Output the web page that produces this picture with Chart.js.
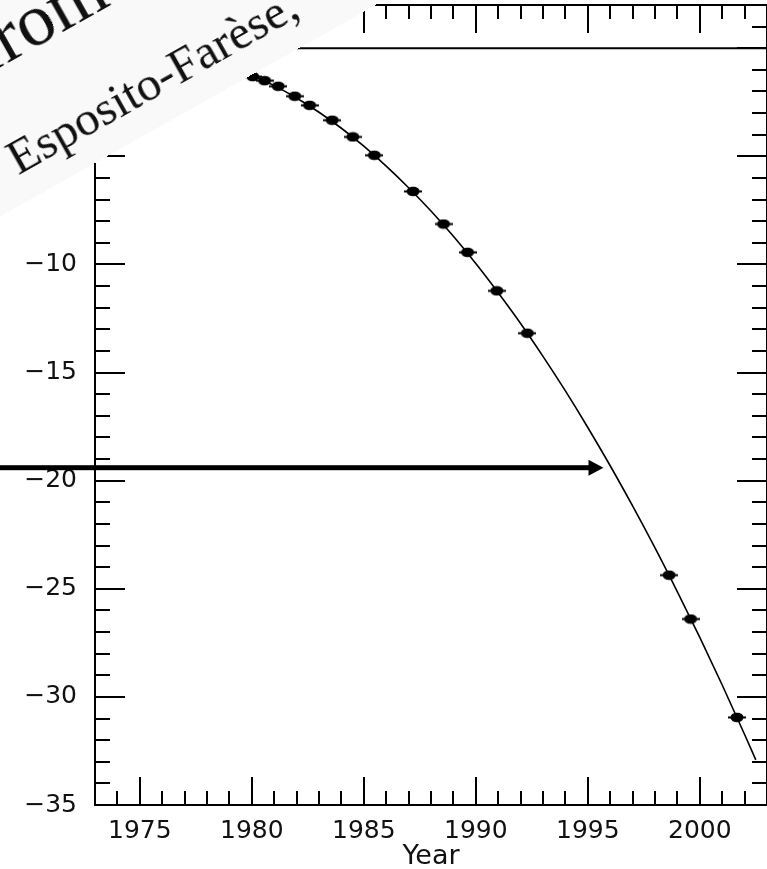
<!DOCTYPE html>
<html>
<head>
<meta charset="utf-8">
<title>Cumulative periastron shift</title>
<script src="https://cdn.jsdelivr.net/npm/chart.js@4.4.1/dist/chart.umd.min.js"></script>
<style>
  html, body { margin: 0; padding: 0; background: #fff; overflow: hidden; }
  #wrap { position: relative; width: 767px; height: 869px; overflow: hidden; }
  #chart { position: absolute; left: 0; top: 0; }
  /* the pasted paper strip over the top-left corner */
  .strip { position: absolute; left: -100px; top: -27px; width: 700px; height: 300px;
           transform-origin: 0 100%; transform: rotate(-29.4deg); background: #f9f9f9; }
  .strip span { position: absolute; white-space: nowrap; font-family: "Liberation Serif", serif;
                color: #111; line-height: 1; }
  .from { left: 171px; top: 107px; font-size: 75px; }
  .names { left: 151px; top: 232px; font-size: 49px; }
</style>
</head>
<body>
<div id="wrap">
  <canvas id="chart" width="767" height="869"></canvas>
  <div class="strip"><span class="from">from</span><span class="names">Esposito-Farèse,</span></div>
</div>
<script>
// measured points: year and cumulative shift (s)
const obsYears = [1980.04, 1980.57, 1981.18, 1981.92, 1982.58, 1983.59, 1984.51, 1985.47,
                  1987.20, 1988.56, 1989.63, 1990.94, 1992.30, 1998.63, 1999.59, 2001.66];
const obsShift = [-1.31, -1.50, -1.76, -2.22, -2.64, -3.33, -4.10, -4.95,
                  -6.62, -8.13, -9.44, -11.22, -13.18, -24.37, -26.40, -30.95];

// predicted curve
const curveYears = [1979, 1980, 1981, 1982, 1983, 1984, 1985, 1986, 1987, 1988, 1989, 1990,
                    1991, 1992, 1993, 1994, 1995, 1996, 1997, 1998, 1999, 2000, 2001, 2002, 2002.5];
const curveShift = [-0.84, -1.24, -1.73, -2.30, -2.96, -3.70, -4.53, -5.45, -6.45, -7.53, -8.70, -9.96,
                    -11.31, -12.73, -14.25, -15.85, -17.54, -19.31, -21.17, -23.11, -25.14, -27.25,
                    -29.45, -31.74, -32.91];

// zero line
const zeroYears = [1973, 2003];
const zeroShift = [0, 0];

// arrow
const arrowShift = -19.4;
const arrowTipYear = 1995.7;

const xMin = 1973, xMax = 2003;
const yMin = -35, yMax = 2;
const majorStep = 5;

const labelFont = { family: "DejaVu Sans", size: 25 };
const titleFont = { family: "DejaVu Sans", size: 27 };

function isWhole(v) { return Math.abs(v - Math.round(v)) < 1e-6; }
function isMajor(v) { return isWhole(v) && Math.round(v) % majorStep === 0; }

function pairs(xs, ys) {
    return xs.map((v, i) => ({ x: v, y: ys[i] }));
}

// filled blob with a short horizontal bar, like the plotted points
function makeMarker() {
    const c = document.createElement("canvas");
    c.width = 18; c.height = 11;
    const g = c.getContext("2d");
    g.fillStyle = "#000";
    g.beginPath();
    g.ellipse(9, 5.5, 6.5, 4.8, 0, 0, Math.PI * 2);
    g.fill();
    g.fillRect(0, 4.5, 18, 2);
    return c;
}

// box round the plot with inward ticks on all four sides
const frameTicks = {
    id: "frameTicks",
    afterDatasetsDraw(chart) {
        const { ctx, chartArea: a, scales: { x, y } } = chart;
        ctx.save();
        ctx.strokeStyle = "#000";
        ctx.lineWidth = 2;
        ctx.strokeRect(a.left, a.top, a.right - a.left, a.bottom - a.top);
        ctx.beginPath();
        x.ticks.forEach(t => {
            if (!isWhole(t.value)) return;
            const px = Math.round(x.getPixelForValue(t.value));
            const len = isMajor(t.value) ? 28 : 14;
            ctx.moveTo(px, a.bottom); ctx.lineTo(px, a.bottom - len);
            ctx.moveTo(px, a.top); ctx.lineTo(px, a.top + len);
        });
        y.ticks.forEach(t => {
            if (!isWhole(t.value)) return;
            const py = Math.round(y.getPixelForValue(t.value));
            const len = isMajor(t.value) ? 30 : 15;
            ctx.moveTo(a.left, py); ctx.lineTo(a.left + len, py);
            ctx.moveTo(a.right, py); ctx.lineTo(a.right - len, py);
        });
        ctx.stroke();
        ctx.restore();
    }
};

// thick arrow coming in from the left
const arrow = {
    id: "arrow",
    afterDatasetsDraw(chart) {
        const { ctx, scales: { x, y } } = chart;
        const py = y.getPixelForValue(arrowShift);
        const tip = x.getPixelForValue(arrowTipYear);
        ctx.save();
        ctx.fillStyle = "#000";
        ctx.fillRect(0, py - 2.5, tip - 12, 5);
        ctx.beginPath();
        ctx.moveTo(tip, py);
        ctx.lineTo(tip - 15, py - 8);
        ctx.lineTo(tip - 15, py + 8);
        ctx.closePath();
        ctx.fill();
        ctx.restore();
    }
};

new Chart(document.getElementById("chart"), {
    type: "scatter",
    data: {
        datasets: [
            { data: pairs(zeroYears, zeroShift), showLine: true, borderColor: "#000",
              borderWidth: 2, pointRadius: 0 },
            { data: pairs(curveYears, curveShift), showLine: true, borderColor: "#000",
              borderWidth: 1.6, pointRadius: 0, cubicInterpolationMode: "monotone" },
            { data: pairs(obsYears, obsShift), pointStyle: makeMarker(), pointRadius: 6,
              backgroundColor: "#000", borderColor: "#000" }
        ]
    },
    options: {
        responsive: false,
        devicePixelRatio: 1,
        animation: false,
        layout: { autoPadding: false, padding: { top: 5, right: 0, bottom: 0, left: 0 } },
        plugins: { legend: { display: false }, tooltip: { enabled: false } },
        scales: {
            x: {
                type: "linear", min: xMin, max: xMax,
                grid: { display: false }, border: { display: false },
                ticks: { stepSize: 1, autoSkip: false, maxRotation: 0, padding: 3,
                         color: "#111", font: labelFont,
                         callback: v => isMajor(v) ? String(Math.round(v)) : "" },
                title: { display: true, text: "Year", color: "#111", font: titleFont,
                         padding: { top: 0, bottom: -4 } },
                afterFit: s => { s.height = 64; s.paddingLeft = 0; s.paddingRight = 0; }
            },
            y: {
                type: "linear", min: yMin, max: yMax,
                grid: { display: false }, border: { display: false },
                ticks: { stepSize: 1, autoSkip: false, padding: 10, color: "#111", font: labelFont,
                         callback: v => {
                             if (!isMajor(v)) return "";
                             const n = Math.round(v);
                             return n < 0 ? "\u2212" + Math.abs(n) : String(n);
                         } },
                afterFit: s => { s.width = 95; s.paddingTop = 0; s.paddingBottom = 0; }
            }
        }
    },
    plugins: [frameTicks, arrow]
});
</script>
</body>
</html>
